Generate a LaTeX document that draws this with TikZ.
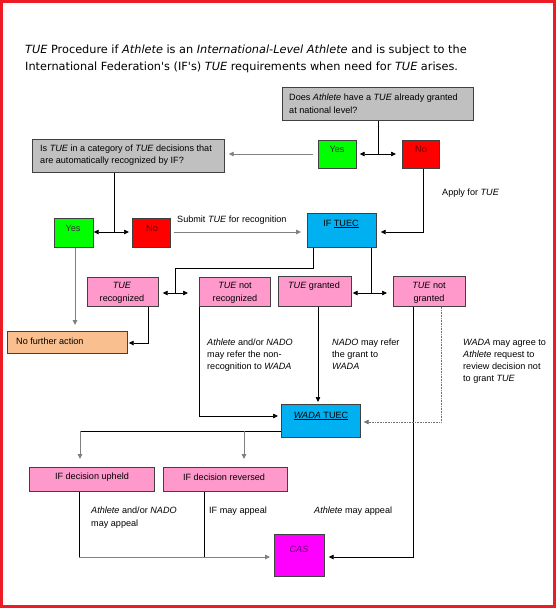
\documentclass[tikz,border=0pt]{standalone}
\usepackage{fontspec}
\setmainfont{Liberation Sans}
\newfontfamily\titlefont{DejaVu Sans}
\usetikzlibrary{arrows.meta}
\definecolor{gbox}{RGB}{192,192,192}
\definecolor{greenbox}{RGB}{0,255,0}
\definecolor{redbox}{RGB}{255,0,0}
\definecolor{bluebox}{RGB}{0,176,240}
\definecolor{pinkbox}{RGB}{255,153,204}
\definecolor{orangebox}{RGB}{250,191,143}
\definecolor{magbox}{RGB}{255,0,255}
\definecolor{frame}{RGB}{237,28,36}
\definecolor{notext}{RGB}{110,0,0}
\definecolor{castext}{RGB}{100,0,110}
\tikzset{
  box/.style={draw=black!75, line width=0.7pt, inner sep=0pt, anchor=north west},
  txt/.style={font=\fontsize{9.1}{11}\selectfont, inner sep=0pt, anchor=base west},
  ctxt/.style={font=\fontsize{9.1}{11}\selectfont, inner sep=0pt, anchor=base},
  ttl/.style={font=\titlefont\fontsize{11.3}{13}\selectfont, inner sep=0pt, anchor=base west},
  con/.style={line width=0.7pt, draw=black},
  gcon/.style={line width=0.9pt, draw=black!50},
  dcon/.style={line width=0.6pt, draw=black!55, densely dotted},
  arr/.style={-{Triangle[length=5pt,width=4.5pt]}},
  darr/.style={{Triangle[length=5pt,width=4.5pt]}-{Triangle[length=5pt,width=4.5pt]}},
}
\begin{document}
\begin{tikzpicture}[x=1pt,y=-1pt]
\useasboundingbox (0,0) rectangle (557,608);
\fill[white] (0,0) rectangle (557,608);
\draw[frame, line width=3pt] (1.5,1.5) rectangle (554,606.5);

% title
\node[ttl] (t1) at (25,53) {\textit{TUE} Procedure if \textit{Athlete} is an \textit{International-Level Athlete} and is subject to the};
\node[ttl] (t2) at (25,70) {International Federation's (IF's) \textit{TUE} requirements when need for \textit{TUE} arises.};

% boxes
\node[box, fill=gbox, minimum width=191pt, minimum height=33pt] (q1) at (282,87) {};
\node[box, fill=greenbox, minimum width=38pt, minimum height=28pt] (yes1) at (318,140) {};
\node[box, fill=redbox, minimum width=37pt, minimum height=28pt] (no1) at (402,140) {};
\node[box, fill=gbox, minimum width=192pt, minimum height=33pt] (q2) at (32,139) {};
\node[box, fill=greenbox, minimum width=39pt, minimum height=29pt] (yes2) at (54,218) {};
\node[box, fill=redbox, minimum width=38pt, minimum height=29pt] (no2) at (132,218) {};
\node[box, fill=bluebox, minimum width=69pt, minimum height=34pt] (iftuec) at (307,213) {};
\node[box, fill=pinkbox, minimum width=71pt, minimum height=29pt] (tuerec) at (87,277) {};
\node[box, fill=pinkbox, minimum width=71pt, minimum height=29pt] (tuenrec) at (199,277) {};
\node[box, fill=pinkbox, minimum width=73pt, minimum height=30pt] (tueg) at (278,276) {};
\node[box, fill=pinkbox, minimum width=72pt, minimum height=30pt] (tueng) at (393,276) {};
\node[box, fill=orangebox, minimum width=120pt, minimum height=22pt] (nfa) at (7,331) {};
\node[box, fill=bluebox, minimum width=79pt, minimum height=33pt] (wada) at (281,404) {};
\node[box, fill=pinkbox, minimum width=125pt, minimum height=24pt] (upheld) at (29,467) {};
\node[box, fill=pinkbox, minimum width=124pt, minimum height=24pt] (reversed) at (163,467) {};
\node[box, fill=magbox, minimum width=50pt, minimum height=42pt] (cas) at (274,534) {};

% box texts
\node[txt] (q1a) at (289,100) {Does \textit{Athlete} have a \textit{TUE} already granted};
\node[txt] (q1b) at (289,113) {at national level?};
\node[ctxt, text=black!80] (yes1t) at (337,152) {Yes};
\node[ctxt, text=notext] (no1t) at (421,152) {No};
\node[txt] (q2a) at (40,151) {Is \textit{TUE} in a category of \textit{TUE} decisions that};
\node[txt] (q2b) at (40,163) {are automatically recognized by IF?};
\node[ctxt, text=black!80] (yes2t) at (73,231) {Yes};
\node[ctxt, text=notext] (no2t) at (152,231) {No};
\node[ctxt] (ift) at (341,226) {IF \underline{TUEC}};
\node[ctxt] (trA) at (122,288) {\textit{TUE}};
\node[ctxt] (trB) at (122,301) {recognized};
\node[ctxt] (tnrA) at (235,288) {\textit{TUE} not};
\node[ctxt] (tnrB) at (235,301) {recognized};
\node[ctxt] (tgA) at (314,288) {\textit{TUE} granted};
\node[ctxt] (tngA) at (429,288) {\textit{TUE} not};
\node[ctxt] (tngB) at (429,301) {granted};
\node[txt] (nfat) at (16,344) {No further action};
\node[ctxt] (wadat) at (321,418) {\underline{\textit{WADA} TUEC}};
\node[ctxt] (upt) at (92,479) {IF decision upheld};
\node[ctxt] (revt) at (224,480) {IF decision reversed};
\node[ctxt, text=castext] (cast) at (299,552) {\textit{CAS}};

% free labels
\node[txt] (lsub) at (177,222) {Submit \textit{TUE} for recognition};
\node[txt] (lapp) at (442,195) {Apply for \textit{TUE}};
\node[txt] (l1a) at (207,345) {\textit{Athlete} and/or \textit{NADO}};
\node[txt] (l1b) at (207,357) {may refer the non-};
\node[txt] (l1c) at (207,369) {recognition to \textit{WADA}};
\node[txt] (l2a) at (332,345) {\textit{NADO} may refer};
\node[txt] (l2b) at (332,357) {the grant to};
\node[txt] (l2c) at (332,369) {\textit{WADA}};
\node[txt] (l3a) at (463,345) {\textit{WADA} may agree to};
\node[txt] (l3b) at (463,357) {\textit{Athlete} request to};
\node[txt] (l3c) at (463,369) {review decision not};
\node[txt] (l3d) at (463,381) {to grant \textit{TUE}};
\node[txt] (l4a) at (91,513) {\textit{Athlete} and/or \textit{NADO}};
\node[txt] (l4b) at (91,526) {may appeal};
\node[txt] (l5) at (209,513) {IF may appeal};
\node[txt] (l6) at (314,513) {\textit{Athlete} may appeal};

% connectors
\coordinate (j1) at (378,154);
\draw[con] (j1 |- q1.south) -- (j1);
\draw[con, darr, shorten <=3pt, shorten >=6pt] (yes1.east |- j1) -- (no1.west |- j1);
\draw[gcon, arr, shorten <=5pt, shorten >=4pt] (yes1.west |- j1) -- (q2.east |- j1);

\coordinate (j2) at (114,232);
\draw[con] (j2 |- q2.south) -- (j2);
\draw[con, darr, shorten >=3pt] (yes2.east |- j2) -- (no2.west |- j2);
\draw[gcon, arr, shorten <=3pt, shorten >=6pt] (no2.east |- j2) -- (iftuec.west |- j2);

\coordinate (j5) at (423,232);
\draw[con, arr, shorten >=4pt] (j5 |- no1.south) -- (j5) -- (iftuec.east |- j5);

\coordinate (j6a) at (313,268);
\coordinate (j6b) at (175,268);
\coordinate (j3) at (175,293);
\draw[con] (j6a |- iftuec.south) -- (j6a) -- (j6b) -- (j3);
\draw[con, darr, shorten <=4pt, shorten >=11pt] (tuerec.east |- j3) -- (tuenrec.west |- j3);

\coordinate (j4) at (371,293);
\draw[con] (j4 |- iftuec.south) -- (j4);
\draw[con, darr, shorten <=1pt, shorten >=6pt] (tueg.east |- j4) -- (tueng.west |- j4);

\coordinate (j8) at (148,343);
\draw[con, arr, shorten >=1pt] (j8 |- tuerec.south) -- (j8) -- (nfa.east |- j8);

\coordinate (j9) at (75,250);
\draw[gcon, arr, shorten >=6pt] (j9 |- yes2.south) -- (j9 |- nfa.north);

\coordinate (j10) at (199,416);
\draw[con, arr, shorten >=3pt] (tuenrec.south west) -- (j10) -- (wada.west |- j10);

\coordinate (j11) at (318,350);
\draw[con, arr, shorten >=2pt] (j11 |- tueg.south) -- (j11 |- wada.north);

\coordinate (j12) at (413,557);
\draw[con, arr, shorten >=4pt] (j12 |- tueng.south) -- (j12) -- (cas.east |- j12);

\coordinate (j13) at (441,422);
\draw[dcon, arr, shorten >=3pt] (j13 |- tueng.south) -- (j13) -- (wada.east |- j13);

\coordinate (j14a) at (80,431);
\coordinate (j14b) at (244,431);
\draw[con] (wada.west |- j14a) -- (j14a);
\draw[gcon, arr, shorten >=8pt] (j14a) -- (j14a |- upheld.north);
\draw[gcon, arr, shorten >=8pt] (j14b) -- (j14b |- reversed.north);

\coordinate (j15a) at (79,557);
\coordinate (j15b) at (204,557);
\draw[con] (j15a |- upheld.south) -- (j15a);
\draw[gcon, arr, shorten >=4pt] (j15a) -- (cas.west |- j15a);
\draw[con] (j15b |- reversed.south) -- (j15b);
\end{tikzpicture}
\end{document}
